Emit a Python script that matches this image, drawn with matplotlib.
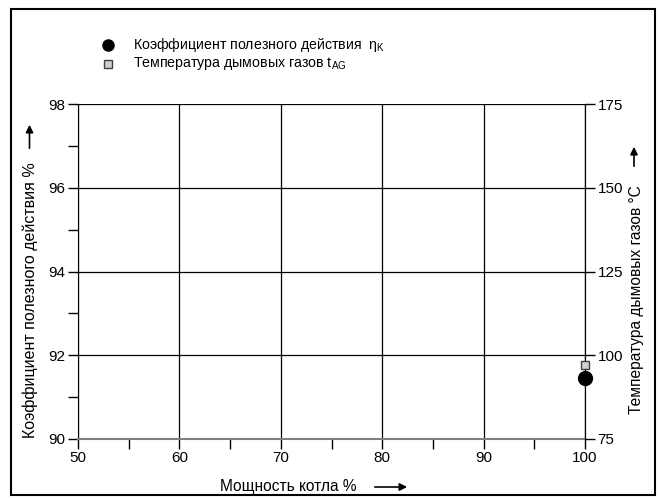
import matplotlib.pyplot as plt
from matplotlib.patches import Rectangle, FancyArrowPatch

plt.rcParams['font.family'] = ['Liberation Sans', 'DejaVu Sans']
plt.rcParams['mathtext.fontset'] = 'custom'
plt.rcParams['mathtext.rm'] = 'Liberation Sans'
plt.rcParams['mathtext.it'] = 'Liberation Sans'

# data
load = [100]                 # Мощность котла %
efficiency = [91.45]         # КПД %
flue_temp = [97.2]           # температура дымовых газов °C

x_ticks = [50, 60, 70, 80, 90, 100]
left_ticks = [90, 92, 94, 96, 98]
right_ticks = [75, 100, 125, 150, 175]

fig = plt.figure(figsize=(6.6, 5), dpi=100)
ax = fig.add_axes([78 / 660, 1 - 439 / 500, 507 / 660, 335 / 500])

ax.set_xlim(50, 100)
ax.set_ylim(90, 98)
ax.set_xticks(x_ticks)
ax.set_xticks([55, 65, 75, 85, 95], minor=True)
ax.set_yticks(left_ticks)
ax.set_yticks([91, 93, 95, 97], minor=True)
ax.tick_params(which='both', direction='out', length=7, width=1, labelsize=11, pad=2)
ax.grid(True, which='major', color='black', linewidth=0.9)
ax.spines['top'].set_visible(False)
ax.spines['bottom'].set_color('#808080')
ax.spines['bottom'].set_linewidth(1.5)

ax2 = ax.twinx()
ax2.set_ylim(75, 175)
ax2.set_yticks(right_ticks)
ax2.tick_params(direction='out', length=7, width=1, labelsize=11, pad=2)
for s in ['top', 'left', 'bottom']:
    ax2.spines[s].set_visible(False)

ax.plot(load, efficiency, 'o', color='black', markersize=10, clip_on=False, zorder=5)
ax2.plot(load, flue_temp, 's', markerfacecolor='#d0d0d0', markeredgecolor='#404040',
         markersize=6, clip_on=False, zorder=6)

# axis labels
fig.text(288 / 660, 1 - 487 / 500, 'Мощность котла %', ha='center', va='center', fontsize=11.2)
fig.text(30 / 660, 1 - 300 / 500, 'Коэффициент полезного действия %', rotation=90,
         ha='center', va='center', fontsize=11.5)
fig.text(637 / 660, 1 - 300 / 500, 'Температура дымовых газов °C', rotation=90,
         ha='center', va='center', fontsize=11.2)

arrow = dict(arrowstyle='-|>', color='black', lw=1.2, mutation_scale=11)
fig.add_artist(FancyArrowPatch((372 / 660, 1 - 487 / 500), (410 / 660, 1 - 487 / 500),
                               transform=fig.transFigure, **arrow))
fig.add_artist(FancyArrowPatch((29.5 / 660, 1 - 151 / 500), (29.5 / 660, 1 - 122 / 500),
                               transform=fig.transFigure, **arrow))
fig.add_artist(FancyArrowPatch((634 / 660, 1 - 169 / 500), (634 / 660, 1 - 144 / 500),
                               transform=fig.transFigure, **arrow))

# legend
fig.lines.append(plt.Line2D([108 / 660], [1 - 45 / 500], marker='o', color='black',
                            markersize=8, transform=fig.transFigure, figure=fig))
fig.lines.append(plt.Line2D([108 / 660], [1 - 64 / 500], marker='s', markerfacecolor='#d0d0d0',
                            markeredgecolor='#404040', markersize=5.5,
                            transform=fig.transFigure, figure=fig))
fig.text(133 / 660, 1 - 45 / 500, 'Коэффициент полезного действия  η$_\\mathrm{K}$',
         ha='left', va='center', fontsize=10.2)
fig.text(133 / 660, 1 - 64 / 500, 'Температура дымовых газов t$_\\mathrm{AG}$',
         ha='left', va='center', fontsize=10.2)

# frame around the figure
fig.add_artist(Rectangle((11 / 660, 1 - 495 / 500), 644 / 660, 486 / 500,
                         transform=fig.transFigure, fill=False, edgecolor='black', linewidth=1.5))

fig.savefig('out.png', dpi=100)
